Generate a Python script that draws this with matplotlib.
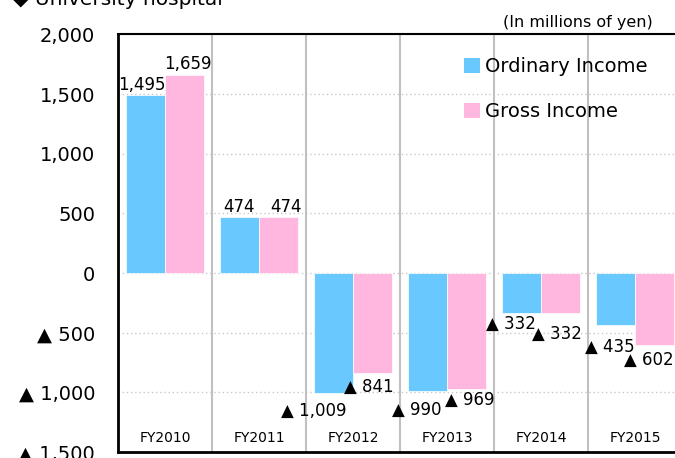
import matplotlib
matplotlib.use("Agg")
import matplotlib.pyplot as plt
from matplotlib.patches import Patch
import numpy as np

# ---- data ----
categories = ["FY2010", "FY2011", "FY2012", "FY2013", "FY2014", "FY2015"]
ordinary_income = [1495, 474, -1009, -990, -332, -435]
gross_income = [1659, 474, -841, -969, -332, -602]
y_ticks = [-1500, -1000, -500, 0, 500, 1000, 1500, 2000]
y_tick_labels = ["▲ 1,500", "▲ 1,000", "▲ 500", "0", "500", "1,000", "1,500", "2,000"]
series_names = ["Ordinary Income", "Gross Income"]

# label offsets (pixels, relative to bar end; +y = down)
ord_offsets = [(-3.5, -10), (0, -10), (-19.5, 17), (-11, 19), (-11, 11), (-6, 22)]
gross_offsets = [(3.5, -11), (7, -10), (-3.5, 14), (3.5, 11), (-3.5, 21), (-5.5, 15)]

BLUE = "#69C9FF"
PINK = "#FFB6DF"

plt.rcParams["font.family"] = ["DejaVu Sans"]

fig = plt.figure(figsize=(6.75, 4.58), dpi=100)
ax = fig.add_axes([118 / 675, 1 - 452 / 458, (682 - 118) / 675, (452 - 34.5) / 458])

x = np.arange(len(categories))
w = 0.415
ax.bar(x - w / 2, ordinary_income, width=w, color=BLUE, edgecolor="white", linewidth=0.5, zorder=3)
ax.bar(x + w / 2, gross_income, width=w, color=PINK, edgecolor="white", linewidth=0.5, zorder=3)


def fmt(v):
    s = f"{abs(v):,}"
    return s if v >= 0 else "▲ " + s


for xs, vals, offs in ((x - w / 2, ordinary_income, ord_offsets), (x + w / 2, gross_income, gross_offsets)):
    for xi, v, (dx, dy) in zip(xs, vals, offs):
        ax.annotate(fmt(v), xy=(xi, v), xytext=(dx, -dy), textcoords="offset pixels",
                    ha="center", va="center", fontsize=12, color="black", zorder=5,
                    annotation_clip=False)

ax.set_xlim(-0.5, len(categories) - 0.5)
ax.set_ylim(-1500, 2000)
ax.set_yticks(y_ticks)
ax.set_yticklabels(y_tick_labels, fontsize=14)
ax.set_xticks([])
ax.tick_params(axis="y", length=0, pad=16.5)

ax.set_axisbelow(True)
ax.yaxis.grid(True, linestyle=(0, (1, 2)), color="#c8c8c8", linewidth=1)
for b in np.arange(len(categories)) + 0.5:
    ax.axvline(b, color="#c0c0c0", linewidth=1.5, zorder=1)

for s in ("left", "bottom"):
    ax.spines[s].set_linewidth(2)
    ax.spines[s].set_color("black")
ax.spines["top"].set_linewidth(1.5)
ax.spines["top"].set_color("black")
ax.spines["right"].set_visible(False)

for xi, c in zip(x, categories):
    ax.text(xi, 0.034, c, transform=ax.get_xaxis_transform(), ha="center", va="center", fontsize=10)

handles = [Patch(facecolor=BLUE), Patch(facecolor=PINK)]
ax.legend(handles, series_names, loc="upper left", bbox_to_anchor=(464 / 675, 1 - 57 / 458),
          bbox_transform=fig.transFigure, frameon=False, fontsize=14, borderpad=0,
          borderaxespad=0, handlelength=0.8, handleheight=0.8, handletextpad=0.3,
          labelspacing=1.35)

fig.text(13 / 675, 1 - 5 / 458, "◆ University hospital", ha="left", va="baseline", fontsize=14.5)
fig.text(653 / 675, 1 - 22 / 458, "(In millions of yen)", ha="right", va="center", fontsize=11.5)

fig.savefig("out.png", dpi=100)
